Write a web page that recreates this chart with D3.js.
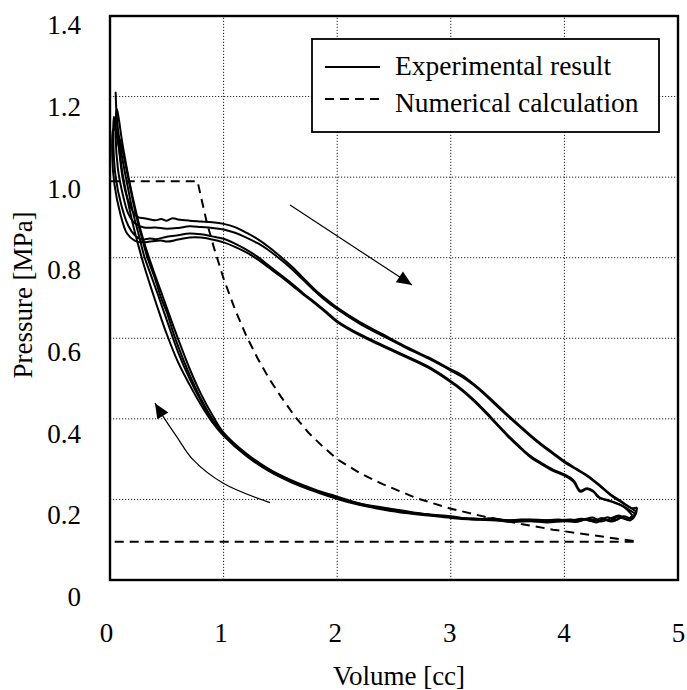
<!DOCTYPE html>
<html>
<head>
<meta charset="utf-8">
<script src="https://cdn.jsdelivr.net/npm/d3@7"></script>
<style>
  html, body { margin: 0; padding: 0; background: #fff; }
  svg { display: block; }
  text { font-family: "Liberation Serif", "Times New Roman", serif; fill: #000; }
</style>
</head>
<body>
<svg id="chart" width="687" height="690"></svg>
<script>
// ---- axis ticks ----
const xTicks = [0, 1, 2, 3, 4, 5];
const xTickLabels = ["0", "1", "2", "3", "4", "5"];
const yTicks = [0, 0.2, 0.4, 0.6, 0.8, 1.0, 1.2, 1.4];
const yTickLabels = ["0", "0.2", "0.4", "0.6", "0.8", "1.0", "1.2", "1.4"];
const xGrid = [1, 2, 3, 4];
const yGrid = [0.2, 0.4, 0.6, 0.8, 1.0, 1.2];

// ---- experimental P-V loops, [volume cc, pressure MPa] ----
// cycle 1 (upper band)
const c1Compression = [[4.63,0.17],[4.6,0.152],[4.52,0.158],[4.45,0.148],[4.38,0.156],[4.3,0.147],[4.2,0.152],[4.1,0.146],[4.0,0.148],[3.8,0.146],[3.6,0.147],[3.4,0.15],[3.2,0.152],[3.0,0.156],[2.8,0.162],[2.6,0.168],[2.4,0.177],[2.2,0.188],[2.0,0.203],[1.8,0.222],[1.6,0.244],[1.4,0.272],[1.2,0.31],[1.0,0.362],[0.9,0.398],[0.8,0.445],[0.7,0.5],[0.6,0.565],[0.5,0.645],[0.42,0.71],[0.35,0.765],[0.3,0.805],[0.25,0.86],[0.2,0.915],[0.15,0.985],[0.1,1.06],[0.07,1.12],[0.055,1.17],[0.05,1.21]];
const c1Expansion = [[0.05,1.21],[0.06,1.14],[0.08,1.07],[0.11,1.0],[0.15,0.95],[0.2,0.915],[0.25,0.9],[0.3,0.898],[0.4,0.893],[0.45,0.896],[0.5,0.892],[0.55,0.898],[0.6,0.895],[0.7,0.892],[0.8,0.89],[0.9,0.888],[1.0,0.884],[1.1,0.876],[1.2,0.862],[1.3,0.846],[1.4,0.826],[1.5,0.803],[1.6,0.778],[1.7,0.75],[1.8,0.722],[1.9,0.698],[2.0,0.676],[2.2,0.64],[2.4,0.61],[2.6,0.58],[2.8,0.553],[3.0,0.523],[3.1,0.508],[3.2,0.487],[3.3,0.463],[3.4,0.437],[3.5,0.41],[3.6,0.385],[3.7,0.36],[3.8,0.337],[3.9,0.316],[4.0,0.295],[4.1,0.277],[4.2,0.26],[4.3,0.238],[4.4,0.214],[4.5,0.195],[4.58,0.18],[4.63,0.17]];
// cycle 2 (upper band)
const c2Compression = [[4.64,0.18],[4.62,0.16],[4.55,0.152],[4.48,0.16],[4.4,0.152],[4.32,0.145],[4.25,0.155],[4.15,0.148],[4.05,0.15],[3.9,0.148],[3.7,0.15],[3.5,0.148],[3.35,0.153],[3.2,0.15],[3.0,0.158],[2.8,0.163],[2.6,0.171],[2.4,0.18],[2.2,0.19],[2.0,0.207],[1.8,0.225],[1.6,0.247],[1.4,0.275],[1.2,0.314],[1.0,0.366],[0.9,0.41],[0.8,0.462],[0.7,0.525],[0.6,0.598],[0.52,0.66],[0.45,0.715],[0.38,0.77],[0.32,0.82],[0.27,0.868],[0.22,0.925],[0.17,0.99],[0.13,1.05],[0.1,1.1],[0.08,1.14],[0.06,1.17]];
const c2Expansion = [[0.06,1.17],[0.05,1.1],[0.07,1.02],[0.11,0.96],[0.16,0.91],[0.22,0.885],[0.3,0.875],[0.4,0.875],[0.5,0.872],[0.6,0.874],[0.7,0.878],[0.8,0.876],[0.9,0.874],[1.0,0.87],[1.1,0.862],[1.2,0.85],[1.3,0.836],[1.4,0.818],[1.5,0.796],[1.6,0.772],[1.7,0.745],[1.8,0.718],[1.9,0.693],[2.0,0.672],[2.2,0.636],[2.4,0.606],[2.6,0.577],[2.8,0.55],[3.0,0.52],[3.1,0.504],[3.2,0.484],[3.3,0.46],[3.4,0.433],[3.5,0.407],[3.6,0.382],[3.7,0.357],[3.8,0.334],[3.9,0.313],[4.0,0.292],[4.1,0.275],[4.2,0.258],[4.3,0.236],[4.4,0.212],[4.5,0.193],[4.6,0.178],[4.64,0.18]];
// cycle 3 (lower band)
const c3Compression = [[4.62,0.165],[4.58,0.148],[4.5,0.155],[4.42,0.145],[4.35,0.15],[4.28,0.143],[4.2,0.15],[4.1,0.144],[4.0,0.146],[3.85,0.143],[3.7,0.146],[3.55,0.144],[3.4,0.148],[3.2,0.15],[3.0,0.154],[2.8,0.16],[2.6,0.166],[2.4,0.175],[2.2,0.186],[2.0,0.201],[1.8,0.22],[1.6,0.242],[1.4,0.27],[1.2,0.308],[1.0,0.358],[0.9,0.392],[0.8,0.435],[0.7,0.485],[0.6,0.54],[0.5,0.61],[0.42,0.675],[0.35,0.735],[0.3,0.78],[0.25,0.83],[0.2,0.885],[0.15,0.95],[0.11,1.01],[0.08,1.07],[0.05,1.12],[0.035,1.15]];
const c3Expansion = [[0.035,1.15],[0.03,1.08],[0.05,1.0],[0.1,0.93],[0.16,0.88],[0.22,0.855],[0.28,0.845],[0.35,0.848],[0.4,0.846],[0.5,0.852],[0.6,0.856],[0.7,0.86],[0.8,0.858],[0.9,0.853],[1.0,0.847],[1.1,0.835],[1.2,0.82],[1.3,0.802],[1.4,0.78],[1.5,0.758],[1.6,0.736],[1.7,0.712],[1.8,0.69],[1.9,0.667],[2.0,0.643],[2.2,0.61],[2.4,0.583],[2.6,0.557],[2.8,0.53],[3.0,0.494],[3.1,0.473],[3.2,0.448],[3.3,0.42],[3.4,0.39],[3.5,0.36],[3.6,0.333],[3.7,0.308],[3.8,0.29],[3.9,0.274],[4.0,0.262],[4.08,0.248],[4.14,0.222],[4.2,0.228],[4.25,0.222],[4.3,0.205],[4.4,0.197],[4.5,0.186],[4.56,0.176],[4.62,0.165]];
// cycle 4 (lower band)
const c4Compression = [[4.6,0.16],[4.55,0.15],[4.47,0.157],[4.4,0.146],[4.33,0.154],[4.25,0.146],[4.15,0.152],[4.05,0.147],[3.95,0.15],[3.8,0.148],[3.62,0.15],[3.45,0.147],[3.3,0.151],[3.1,0.154],[2.9,0.159],[2.7,0.165],[2.5,0.173],[2.3,0.183],[2.1,0.196],[1.9,0.213],[1.7,0.233],[1.5,0.258],[1.3,0.29],[1.1,0.334],[1.0,0.362],[0.9,0.4],[0.8,0.45],[0.7,0.51],[0.6,0.58],[0.55,0.62],[0.5,0.665],[0.45,0.7],[0.4,0.745],[0.33,0.8],[0.28,0.85],[0.23,0.905],[0.18,0.97],[0.13,1.04],[0.09,1.09],[0.06,1.11],[0.03,1.12]];
const c4Expansion = [[0.03,1.12],[0.02,1.05],[0.04,0.98],[0.09,0.91],[0.15,0.86],[0.22,0.842],[0.3,0.838],[0.35,0.84],[0.45,0.843],[0.5,0.84],[0.6,0.845],[0.7,0.85],[0.8,0.85],[0.9,0.845],[1.0,0.838],[1.1,0.827],[1.2,0.813],[1.3,0.796],[1.4,0.775],[1.5,0.754],[1.6,0.732],[1.7,0.709],[1.8,0.687],[1.9,0.664],[2.0,0.64],[2.2,0.607],[2.4,0.58],[2.6,0.554],[2.8,0.527],[3.0,0.491],[3.1,0.47],[3.2,0.445],[3.3,0.417],[3.4,0.387],[3.5,0.357],[3.6,0.33],[3.7,0.305],[3.8,0.287],[3.9,0.271],[4.0,0.259],[4.08,0.244],[4.14,0.219],[4.2,0.226],[4.26,0.218],[4.32,0.203],[4.42,0.194],[4.52,0.182],[4.6,0.16]];

// ---- numerical calculation loop ----
const numericalLoop = [[4.61,0.095],[0,0.095],[0,0.99],[0.77,0.99],[0.85,0.89],[0.92,0.82],[1.0,0.748],[1.1,0.672],[1.2,0.606],[1.3,0.55],[1.4,0.5],[1.5,0.457],[1.63,0.405],[1.75,0.365],[1.87,0.332],[2.0,0.3],[2.2,0.265],[2.4,0.238],[2.7,0.203],[3.0,0.177],[3.3,0.157],[3.6,0.14],[3.9,0.125],[4.2,0.113],[4.45,0.103],[4.61,0.097]];

// ---- direction arrows ----
const expansionArrow = [[1.585,0.931],[2.658,0.732]];
const compressionArrow = [[1.408,0.192],[0.997,0.24],[0.733,0.298],[0.587,0.356],[0.47,0.405],[0.396,0.439]];

const svg = d3.select("#chart");
const x = d3.scaleLinear().domain([0, 5]).range([110, 678]);
const y = d3.scaleLinear().domain([0, 1.4]).range([580, 16]);
// tick-label placement scales
const xLabel = d3.scaleLinear().domain([0, 5]).range([106.5, 678.5]);
const yLabel = d3.scaleLinear().domain([0, 1.4]).range([597, 25]);

const fontSize = 27;

// grid
const grid = svg.append("g").attr("stroke", "#222").attr("stroke-width", 1)
  .attr("stroke-dasharray", "1.2,1.8").attr("fill", "none");
grid.selectAll("line.gx").data(xGrid).join("line")
  .attr("x1", d => x(d)).attr("x2", d => x(d)).attr("y1", y(0)).attr("y2", y(1.4));
grid.selectAll("line.gy").data(yGrid).join("line")
  .attr("x1", x(0)).attr("x2", x(5)).attr("y1", d => y(d)).attr("y2", d => y(d));

const line = d3.line().x(d => x(d[0])).y(d => y(d[1]));

// numerical loop (dashed)
svg.append("path").datum(numericalLoop)
  .attr("d", line.curve(d3.curveLinear))
  .attr("fill", "none").attr("stroke", "#000").attr("stroke-width", 2)
  .attr("stroke-dasharray", "9,6");

// experimental loops
const smooth = d3.line().x(d => x(d[0])).y(d => y(d[1])).curve(d3.curveCatmullRom.alpha(0.5));
const cycles = [
  c1Compression.concat(c1Expansion.slice(1)),
  c2Compression.concat(c2Expansion.slice(1)),
  c3Compression.concat(c3Expansion.slice(1)),
  c4Compression.concat(c4Expansion.slice(1))
];
svg.append("g").selectAll("path").data(cycles).join("path")
  .attr("d", smooth)
  .attr("fill", "none").attr("stroke", "#000").attr("stroke-width", 2)
  .attr("stroke-linejoin", "round");

// arrows
function drawArrow(pts) {
  const px = pts.map(p => [x(p[0]), y(p[1])]);
  svg.append("path").attr("d", d3.line().curve(d3.curveCatmullRom.alpha(0.5))(px))
    .attr("fill", "none").attr("stroke", "#000").attr("stroke-width", 1.2);
  const tip = px[px.length - 1], prev = px[px.length - 2];
  const dx = tip[0] - prev[0], dy = tip[1] - prev[1];
  const len = Math.hypot(dx, dy), ux = dx / len, uy = dy / len;
  const hl = 15, hw = 6.5;
  const bx = tip[0] - ux * hl, by = tip[1] - uy * hl;
  svg.append("polygon")
    .attr("points", [[tip[0], tip[1]], [bx - uy * hw, by + ux * hw], [bx + uy * hw, by - ux * hw]].map(p => p.join(",")).join(" "))
    .attr("fill", "#000");
}
drawArrow(expansionArrow);
drawArrow(compressionArrow);

// plot frame
svg.append("rect").attr("x", x(0)).attr("y", y(1.4))
  .attr("width", x(5) - x(0)).attr("height", y(0) - y(1.4))
  .attr("fill", "none").attr("stroke", "#000").attr("stroke-width", 2.4);

// tick labels
svg.append("g").selectAll("text").data(xTicks).join("text")
  .attr("x", d => xLabel(d)).attr("y", 642)
  .attr("text-anchor", "middle").attr("font-size", fontSize)
  .text((d, i) => xTickLabels[i]);
svg.append("g").selectAll("text").data(yTicks).join("text")
  .attr("x", 81).attr("y", d => yLabel(d) + 9.2)
  .attr("text-anchor", "end").attr("font-size", fontSize)
  .text((d, i) => yTickLabels[i]);

// axis titles
svg.append("text").attr("x", 399).attr("y", 685)
  .attr("text-anchor", "middle").attr("font-size", fontSize).text("Volume [cc]");
svg.append("text").attr("transform", "translate(32,295) rotate(-90)")
  .attr("text-anchor", "middle").attr("font-size", fontSize).text("Pressure [MPa]");

// legend
const lg = svg.append("g");
lg.append("rect").attr("x", 312).attr("y", 39).attr("width", 347).attr("height", 93)
  .attr("fill", "#fff").attr("stroke", "#000").attr("stroke-width", 1.8);
lg.append("line").attr("x1", 325).attr("x2", 380).attr("y1", 67).attr("y2", 67)
  .attr("stroke", "#000").attr("stroke-width", 1.8);
lg.append("line").attr("x1", 325).attr("x2", 382).attr("y1", 99).attr("y2", 99)
  .attr("stroke", "#000").attr("stroke-width", 1.8).attr("stroke-dasharray", "9,6");
lg.append("text").attr("x", 395).attr("y", 75).attr("font-size", 27.5).text("Experimental result");
lg.append("text").attr("x", 395).attr("y", 111.5).attr("font-size", 27.5).text("Numerical calculation");
</script>
</body>
</html>
